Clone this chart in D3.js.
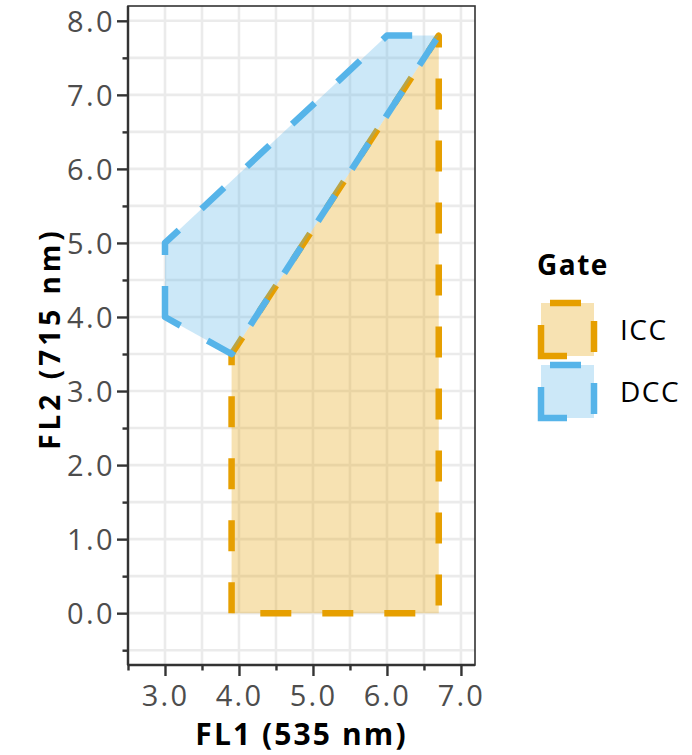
<!DOCTYPE html>
<html>
<head>
<meta charset="utf-8">
<script src="https://cdn.jsdelivr.net/npm/d3@7"></script>
<style>
  html, body { margin: 0; padding: 0; background: #ffffff; }
  svg { display: block; font-family: "Open Sans", "Noto Sans", sans-serif; }
</style>
</head>
<body>
<svg id="chart" width="692" height="755"></svg>
<script>
// Gate polygons on the FL1 / FL2 plane (vertices in drawing order)
const gates = ["ICC", "DCC"];
const gateColors = ["#E69F00", "#56B4E9"];
const iccFL1 = [3.9, 3.9, 6.7, 6.7];
const iccFL2 = [0.0, 3.5, 7.8, 0.0];
const dccFL1 = [3.0, 3.0, 6.0, 6.7, 3.9];
const dccFL2 = [4.0, 5.0, 7.8, 7.8, 3.5];

// Axis ticks
const xMajor = [3, 4, 5, 6, 7];
const xMinor = [2.5, 3.5, 4.5, 5.5, 6.5];
const yMajor = [0, 1, 2, 3, 4, 5, 6, 7, 8];
const yMinor = [-0.5, 0.5, 1.5, 2.5, 3.5, 4.5, 5.5, 6.5, 7.5];
const xTitle = "FL1 (535 nm)";
const yTitle = "FL2 (715 nm)";
const legendTitle = "Gate";

const svg = d3.select("#chart");
const panel = { left: 128, right: 475, top: 6, bottom: 665 };

const x = d3.scaleLinear().domain([2.5, 7.19]).range([panel.left, panel.right]);
const y = d3.scaleLinear().domain([-0.7, 8.2]).range([panel.bottom, panel.top]);

// grid lines (major and minor look alike)
const grid = svg.append("g");
grid.selectAll("line.vx").data(xMajor.concat(xMinor)).join("line")
  .attr("x1", d => x(d)).attr("x2", d => x(d))
  .attr("y1", panel.top).attr("y2", panel.bottom)
  .attr("stroke", "#ebebeb").attr("stroke-width", 2.6);
grid.selectAll("line.hy").data(yMajor.concat(yMinor)).join("line")
  .attr("x1", panel.left).attr("x2", panel.right)
  .attr("y1", d => y(d)).attr("y2", d => y(d))
  .attr("stroke", "#ebebeb").attr("stroke-width", 2.6);

// gate polygons
const gateData = [
  { name: gates[0], color: gateColors[0], pts: iccFL1.map((v, i) => [v, iccFL2[i]]) },
  { name: gates[1], color: gateColors[1], pts: dccFL1.map((v, i) => [v, dccFL2[i]]) }
];
const line = d3.line().x(d => x(d[0])).y(d => y(d[1]));
svg.append("g").selectAll("path").data(gateData).join("path")
  .attr("d", d => line(d.pts) + "Z")
  .attr("fill", d => d.color)
  .attr("fill-opacity", 0.3)
  .attr("stroke", d => d.color)
  .attr("stroke-width", 6.5)
  .attr("stroke-dasharray", "31 31")
  .attr("stroke-linejoin", "round");

// panel border
svg.append("rect")
  .attr("x", panel.left).attr("y", panel.top)
  .attr("width", panel.right - panel.left).attr("height", panel.bottom - panel.top)
  .attr("fill", "none").attr("stroke", "#333333").attr("stroke-width", 1.6);

// axes
const axisColor = "#333333";
const gx = svg.append("g").attr("transform", `translate(0,${panel.bottom})`);
gx.call(d3.axisBottom(x).tickValues(xMajor).tickSize(11).tickFormat(d3.format(".1f")));
const gxm = svg.append("g").attr("transform", `translate(0,${panel.bottom})`);
gxm.call(d3.axisBottom(x).tickValues(xMinor).tickSize(5.5).tickFormat(""));
const gy = svg.append("g").attr("transform", `translate(${panel.left},0)`);
gy.call(d3.axisLeft(y).tickValues(yMajor).tickSize(11).tickFormat(d3.format(".1f")));
const gym = svg.append("g").attr("transform", `translate(${panel.left},0)`);
gym.call(d3.axisLeft(y).tickValues(yMinor).tickSize(5.5).tickFormat(""));

[gx, gxm, gy, gym].forEach(g => {
  g.select(".domain").attr("stroke", axisColor).attr("stroke-width", 2.4);
  g.selectAll(".tick line").attr("stroke", axisColor).attr("stroke-width", 2.4);
});
gym.select(".domain").remove();
gxm.select(".domain").remove();
gy.select(".domain").attr("d", `M0,${panel.top}V${panel.bottom}`);
gx.select(".domain").attr("d", `M${panel.left},0H${panel.right}`);

gx.selectAll(".tick text")
  .attr("y", 41).attr("dy", 0)
  .attr("font-size", 29).attr("letter-spacing", 2.2)
  .attr("font-family", "Open Sans").attr("fill", "#4d4d4d");
gy.selectAll(".tick text")
  .attr("x", -13).attr("dy", "0.36em")
  .attr("font-size", 29).attr("letter-spacing", 2.4)
  .attr("font-family", "Open Sans").attr("fill", "#4d4d4d");

// axis titles
svg.append("text")
  .attr("x", (panel.left + panel.right) / 2).attr("y", 745)
  .attr("text-anchor", "middle")
  .attr("font-size", 30).attr("font-weight", "bold").attr("letter-spacing", 2.1)
  .attr("fill", "#000").text(xTitle);
svg.append("text")
  .attr("transform", `translate(60,${(panel.top + panel.bottom) / 2 + 3}) rotate(-90)`)
  .attr("text-anchor", "middle")
  .attr("font-size", 28).attr("font-weight", "bold").attr("letter-spacing", 4)
  .attr("fill", "#000").text(yTitle);

// legend
const legend = svg.append("g");
legend.append("text")
  .attr("x", 537).attr("y", 275)
  .attr("font-size", 28).attr("font-weight", "bold").attr("letter-spacing", 1.5)
  .attr("fill", "#000").text(legendTitle);

const keySize = 53, keyLeft = 541, keyTop0 = 303, keyStep = 62;
const keys = legend.selectAll("g.key").data(gateData).join("g")
  .attr("class", "key")
  .attr("transform", (d, i) => `translate(${keyLeft},${keyTop0 + i * keyStep})`);
keys.append("path")
  .attr("d", `M0,${keySize}V0H${keySize}V${keySize}Z`)
  .attr("fill", d => d.color).attr("fill-opacity", 0.3)
  .attr("stroke", d => d.color).attr("stroke-width", 6.5)
  .attr("stroke-dasharray", "31 31");
keys.append("text")
  .attr("x", 79).attr("y", keySize / 2 + 10)
  .attr("font-size", 28).attr("letter-spacing", 1.5)
  .attr("fill", "#000").text(d => d.name);
</script>
</body>
</html>
